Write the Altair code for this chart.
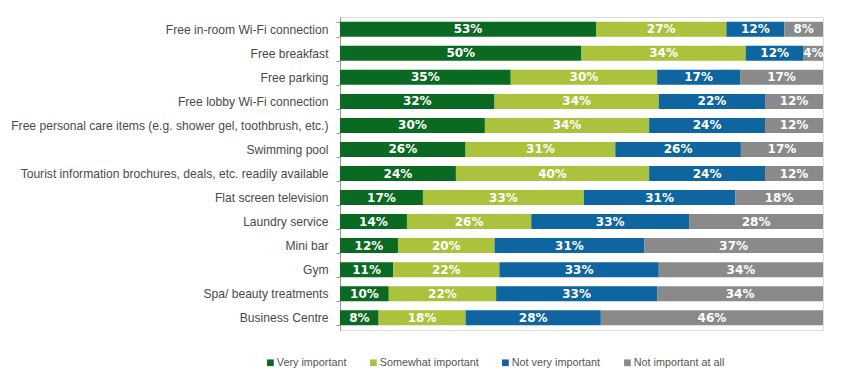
import altair as alt
import pandas as pd

categories = [
    "Free in-room Wi-Fi connection",
    "Free breakfast",
    "Free parking",
    "Free lobby Wi-Fi connection",
    "Free personal care items (e.g. shower gel, toothbrush, etc.)",
    "Swimming pool",
    "Tourist information brochures, deals, etc. readily available",
    "Flat screen television",
    "Laundry service",
    "Mini bar",
    "Gym",
    "Spa/ beauty treatments",
    "Business Centre",
]
very = [53, 50, 35, 32, 30, 26, 24, 17, 14, 12, 11, 10, 8]
somewhat = [27, 34, 30, 34, 34, 31, 40, 33, 26, 20, 22, 22, 18]
notvery = [12, 12, 17, 22, 24, 26, 24, 31, 33, 31, 33, 33, 28]
notatall = [8, 4, 17, 12, 12, 17, 12, 18, 28, 37, 34, 34, 46]

series = ["Very important", "Somewhat important", "Not very important", "Not important at all"]
colors = ["#0b6a22", "#abc23c", "#0f659f", "#8a8a8a"]

rows = []
for i, c in enumerate(categories):
    for k, (s, vals) in enumerate(zip(series, [very, somewhat, notvery, notatall])):
        rows.append({"cat": c, "series": s, "order": k, "value": vals[i]})
df = pd.DataFrame(rows)

base = alt.Chart(df).transform_joinaggregate(
    total="sum(value)", groupby=["cat"]
).transform_calculate(
    frac="datum.value / datum.total"
).transform_window(
    cum="sum(frac)", groupby=["cat"], sort=[alt.SortField("order")], frame=[None, 0]
).transform_calculate(
    start="datum.cum - datum.frac",
    mid="datum.cum - datum.frac / 2",
    label="datum.value + '%'",
)

y = alt.Y(
    "cat:N",
    sort=categories,
    title=None,
    scale=alt.Scale(paddingInner=0.38, paddingOuter=0.2),
    axis=alt.Axis(
        tickBand="extent",
        tickSize=4,
        labelPadding=8,
        labelFont="Liberation Sans",
        labelFontSize=12.1,
        labelColor="#4a4a4a",
        labelLimit=400,
        domainColor="#999999",
        tickColor="#999999",
    ),
)

xscale = alt.Scale(domain=[0, 1], nice=False, zero=True)

bars = base.mark_bar(size=15).encode(
    y=y,
    x=alt.X("start:Q", scale=xscale, axis=None),
    x2="cum:Q",
    color=alt.Color(
        "series:N",
        sort=series,
        scale=alt.Scale(domain=series, range=colors),
        legend=alt.Legend(
            title=None,
            orient="none",
            direction="horizontal",
            legendX=-75,
            legendY=340,
            symbolType="square",
            symbolSize=45,
            symbolStrokeWidth=0,
            labelFont="Liberation Sans",
            labelFontSize=10.8,
            labelColor="#555555",
            columnPadding=21,
            labelOffset=1,
            padding=0,
        ),
    ),
)

text = base.mark_text(
    font="DejaVu Sans", fontWeight="bold", fontSize=12, color="white", baseline="middle"
).encode(
    y=alt.Y("cat:N", sort=categories),
    x=alt.X("mid:Q", scale=xscale),
    text="label:N",
)

chart = (
    alt.layer(bars, text)
    .properties(
        width=483,
        height=313,
        autosize=alt.AutoSizeParams(type="none"),
        padding={"left": 332, "top": 9, "right": 19, "bottom": 43},
    )
    .configure_view(stroke=None)
    .configure(background="white")
)

chart.save("out.html", embed_options={"renderer": "svg", "actions": False})
